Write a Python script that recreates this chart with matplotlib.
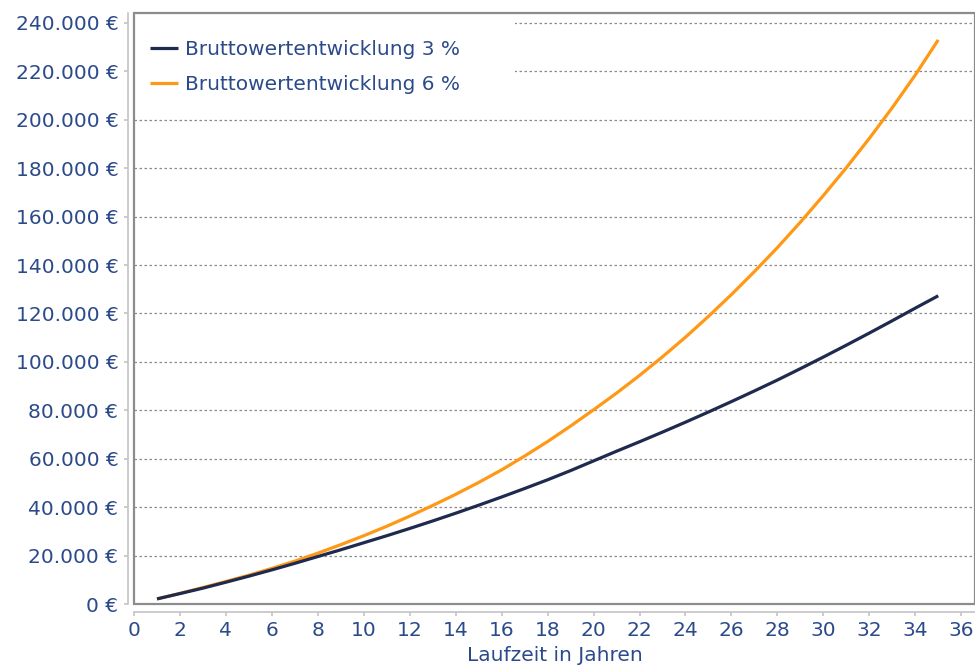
import matplotlib
matplotlib.use("Agg")
import matplotlib.pyplot as plt
from matplotlib.patches import Rectangle
from matplotlib.ticker import FuncFormatter

# Laufzeit in Jahren und Bruttowert (Euro)
jahre = list(range(1, 36))
brutto_3 = [2100, 4300, 6550, 9000, 11500, 14100, 16800, 19600, 22400, 25300,
            28200, 31200, 34300, 37500, 40800, 44200, 47700, 51300, 55100, 59100,
            63100, 67000, 71000, 75100, 79300, 83600, 88000, 92500, 97200, 102000,
            106900, 111900, 117000, 122200, 127300]
brutto_6 = [2100, 4400, 6800, 9300, 11900, 14700, 17700, 21000, 24500, 28200,
            32100, 36300, 40700, 45300, 50200, 55400, 61100, 67100, 73500, 80200,
            87100, 94400, 102100, 110200, 118800, 127800, 137300, 147200, 157700, 168700,
            180200, 192300, 205000, 218500, 233000]
labels = ["Bruttowertentwicklung 3 %", "Bruttowertentwicklung 6 %"]

navy = "#1e2a4e"
orange = "#ff9814"
text_col = "#2b4a8a"

fig = plt.figure(figsize=(9.75, 6.68), dpi=100)
ax = fig.add_axes([134 / 975, 1 - 604 / 668, 1 - 134 / 975, (604 - 13) / 668])

l6, = ax.plot(jahre, brutto_6, color=orange, lw=2.3, zorder=3, solid_capstyle="butt")
l3, = ax.plot(jahre, brutto_3, color=navy, lw=2.3, zorder=4, solid_capstyle="butt")

ax.set_xlim(0, 36.6)
ax.set_ylim(0, 244100)
ax.set_xticks(range(0, 37, 2))
ax.set_yticks(range(0, 240001, 20000))
ax.yaxis.set_major_formatter(FuncFormatter(lambda v, p: f"{int(v):,} €".replace(",", ".")))

ax.grid(axis="y", color="#8a8a8a", linestyle=(0, (2, 2)), linewidth=0.9)
ax.set_axisbelow(True)

# Rahmen um die Zeichenfläche, Achsen leicht abgesetzt
for s in ["top", "right"]:
    ax.spines[s].set_visible(False)
ax.spines["left"].set_position(("outward", 4.3))
ax.spines["bottom"].set_position(("outward", 5.5))
for s in ["left", "bottom"]:
    ax.spines[s].set_color("#c4c4c4")
    ax.spines[s].set_linewidth(1.2)
ax.add_patch(Rectangle((0, 0), 1, 1, transform=ax.transAxes, fill=False,
                       edgecolor="#8c8c8c", lw=1.6, clip_on=False, zorder=5))

ax.tick_params(colors="#c4c4c4", labelcolor=text_col, labelsize=14.5, length=3, width=1.2, pad=4)
ax.set_xlabel("Laufzeit in Jahren", color=text_col, fontsize=14.5, labelpad=4)

# weisser Hintergrund der Legende (verdeckt die Gitterlinien)
ax.add_patch(Rectangle((0, 0.85), 0.453, 0.15, transform=ax.transAxes,
                       facecolor="white", edgecolor="none", zorder=2))
leg = ax.legend([l3, l6], labels, loc="upper left", bbox_to_anchor=(0.019, 0.955),
                frameon=False, fontsize=14.5, handlelength=1.4, handletextpad=0.35,
                labelspacing=0.8, borderpad=0, borderaxespad=0)
leg.set_zorder(6)
for t in leg.get_texts():
    t.set_color(text_col)

fig.savefig("out.png", dpi=100)
